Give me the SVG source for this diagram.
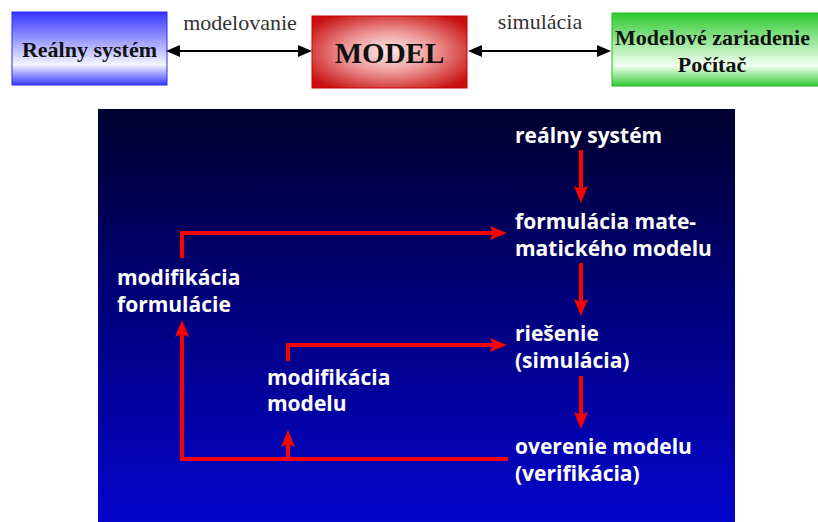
<svg xmlns="http://www.w3.org/2000/svg" width="818" height="522" viewBox="0 0 818 522">
<defs>
  <linearGradient id="gBlue" x1="0" y1="0" x2="0" y2="1">
    <stop offset="0" stop-color="#3535ff"/>
    <stop offset="0.72" stop-color="#f4f4ff"/>
    <stop offset="1" stop-color="#3a3aff"/>
  </linearGradient>
  <linearGradient id="gGreen" x1="0" y1="0" x2="0" y2="1">
    <stop offset="0" stop-color="#2fc92f"/>
    <stop offset="0.72" stop-color="#f2fff2"/>
    <stop offset="1" stop-color="#36cc36"/>
  </linearGradient>
  <radialGradient id="gRed" cx="0.5" cy="0.5" r="0.62">
    <stop offset="0" stop-color="#fbeaea"/>
    <stop offset="0.45" stop-color="#ee9a9a"/>
    <stop offset="1" stop-color="#c81010"/>
  </radialGradient>
  <linearGradient id="gPanel" x1="0" y1="0" x2="0" y2="1">
    <stop offset="0" stop-color="#00002e"/>
    <stop offset="0.5" stop-color="#000080"/>
    <stop offset="1" stop-color="#0505cc"/>
  </linearGradient>
  <marker id="ah" markerUnits="userSpaceOnUse" markerWidth="17" markerHeight="14" refX="8" refY="7" orient="auto">
    <path d="M0,0 L17,7 L0,14 L3,7 z" fill="#ff0000"/>
  </marker>
  <marker id="bh" markerUnits="userSpaceOnUse" markerWidth="14" markerHeight="12" refX="6" refY="6" orient="auto-start-reverse">
    <path d="M0,0 L14,6 L0,12 z" fill="#000"/>
  </marker>
  <style>
    .bt { font-family: "Liberation Serif", "Times New Roman", serif; font-weight: bold; font-size: 22px; fill: #111; }
    .lab { font-family: "Liberation Serif", "Times New Roman", serif; font-size: 22px; fill: #333; }
    .wt { font-family: "Open Sans", "Liberation Sans", sans-serif; font-weight: bold; font-size: 21px; fill: #ffffff; }
    .red { fill: none; stroke: #ff0000; stroke-width: 4; }
    .blk { fill: none; stroke: #000; stroke-width: 2; }
  </style>
</defs>
<rect width="818" height="522" fill="#ffffff"/>

<g id="realny-system-box">
  <rect x="12" y="12" width="155" height="73" fill="url(#gBlue)" stroke="#2a2aff" stroke-width="1"/>
  <text class="bt" x="89.5" y="57" text-anchor="middle">Reálny systém</text>
</g>
<g id="model-box">
  <rect x="312" y="16" width="155" height="72" fill="url(#gRed)" stroke="#c00" stroke-width="1"/>
  <text class="bt" x="389.5" y="63" text-anchor="middle" style="font-size:29px">MODEL</text>
</g>
<g id="zariadenie-box">
  <rect x="612" y="13" width="210" height="73" fill="url(#gGreen)" stroke="#22bb22" stroke-width="1"/>
  <text class="bt" x="615" y="45">Modelové zariadenie</text>
  <text class="bt" x="712" y="72" text-anchor="middle">Počítač</text>
</g>

<g id="top-connectors">
  <line class="blk" x1="174" y1="51" x2="304" y2="51" marker-start="url(#bh)" marker-end="url(#bh)"/>
  <text class="lab" x="240" y="30" text-anchor="middle">modelovanie</text>
  <line class="blk" x1="476" y1="51" x2="603" y2="51" marker-start="url(#bh)" marker-end="url(#bh)"/>
  <text class="lab" x="540" y="29" text-anchor="middle">simulácia</text>
</g>

<rect id="panel" x="98" y="109" width="637" height="413" fill="url(#gPanel)"/>

<g id="n-realny"><text class="wt" x="515" y="143">reálny systém</text></g>
<g id="n-formulacia"><text class="wt" x="515" y="229">formulácia mate-</text><text class="wt" x="515" y="256">matického modelu</text></g>
<g id="n-riesenie"><text class="wt" x="515" y="341">riešenie</text><text class="wt" x="515" y="368">(simulácia)</text></g>
<g id="n-overenie"><text class="wt" x="515" y="454">overenie modelu</text><text class="wt" x="515" y="481">(verifikácia)</text></g>
<g id="n-mod-form"><text class="wt" x="117" y="285">modifikácia</text><text class="wt" x="117" y="312">formulácie</text></g>
<g id="n-mod-model"><text class="wt" x="267" y="385">modifikácia</text><text class="wt" x="267" y="411">modelu</text></g>

<g id="connectors">
  <path class="red" d="M581,150 V194" marker-end="url(#ah)"/>
  <path class="red" d="M581,263 V307" marker-end="url(#ah)"/>
  <path class="red" d="M581,376 V420" marker-end="url(#ah)"/>
  <path class="red" d="M182,258 V233 H498" marker-end="url(#ah)"/>
  <path class="red" d="M508,459 H182 V329" marker-end="url(#ah)"/>
  <path class="red" d="M288,459 V439" marker-end="url(#ah)"/>
  <path class="red" d="M288,361 V345 H498" marker-end="url(#ah)"/>
</g>
</svg>
